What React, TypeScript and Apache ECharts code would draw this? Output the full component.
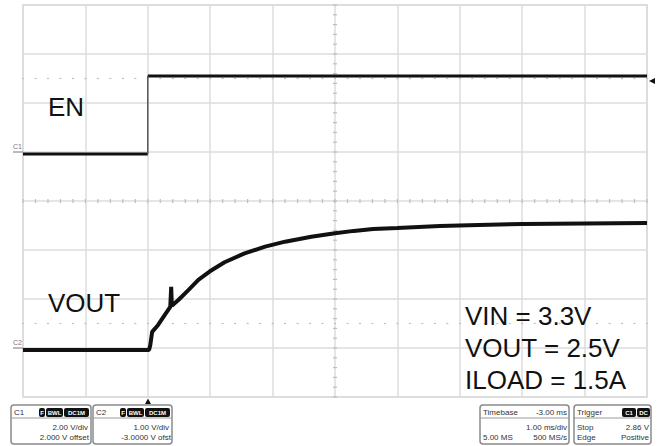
import React, { useEffect, useRef } from "react";
import * as echarts from "echarts";

// Time in ms relative to trigger, voltages in volts
const EN_TIME = [-2, 0, 0, 0, 8];
const EN_VOLT: (number | string)[] = [0, 0, "-", 3.18, 3.18];
const EN_EDGE_TIME = [0, 0];
const EN_EDGE_VOLT = [0, 3.18];

const VOUT_TIME = [-2, 0.02, 0.04, 0.07, 0.165, 0.27, 0.36, 0.375, 0.385, 0.49, 0.65, 0.81, 0.99, 1.23, 1.55, 1.88, 2.2, 2.62, 3.0, 3.3, 3.61, 4.0, 4.68, 5.3, 6.01, 7.0, 8.0];
const VOUT_VOLT = [0, 0, 0.1, 0.37, 0.51, 0.71, 0.88, 1.29, 0.9, 1.02, 1.22, 1.43, 1.6, 1.79, 1.97, 2.11, 2.21, 2.31, 2.38, 2.43, 2.47, 2.49, 2.53, 2.55, 2.57, 2.58, 2.59];

// channel settings (V/div, ground position in divisions)
const EN_SCALE = 2;
const EN_GND = 0.96;
const VOUT_SCALE = 1;
const VOUT_GND = -3.04;

const X_MIN = -2;
const X_MAX = 8;
const X_CENTER = 3;
const Y_MIN = -4;
const Y_MAX = 4;

const ANNOTATIONS = ["VIN = 3.3V", "VOUT = 2.5V", "ILOAD = 1.5A"];

const FONT = "'Liberation Sans', Arial, sans-serif";

function buildTicks() {
  const out: number[][] = [];
  for (let k = 0; k <= 50; k++) {
    const x = X_MIN + k * 0.2;
    out.push([x, 0, 0]);
    out.push([x, 2.5, 2]);
    out.push([x, -2.5, 2]);
  }
  for (let k = 0; k <= 40; k++) {
    const y = Y_MIN + k * 0.2;
    out.push([X_CENTER, y, 1]);
  }
  return out;
}

function txt(x: number, y: number, text: string, opts: any = {}) {
  return {
    type: "text",
    x,
    y,
    style: {
      text,
      fill: opts.fill || "#333",
      font: opts.font || `8px ${FONT}`,
      textAlign: opts.align || "left",
      textVerticalAlign: "middle",
    },
    z: 10,
  };
}

function badge(x: number, w: number, y: number, label: string) {
  return [
    { type: "rect", shape: { x, y, width: w, height: 9, r: 2 }, style: { fill: "#111" }, z: 10 },
    txt(x + w / 2, y + 4.5, label, { fill: "#fff", font: `bold 6px ${FONT}`, align: "center" }),
  ];
}

function box(x: number, w: number) {
  return [
    { type: "rect", shape: { x, y: 405, width: w, height: 39, r: 3 }, style: { fill: "#fff", stroke: "#8a8a8a", lineWidth: 1.5 }, z: 9 },
    { type: "line", shape: { x1: x, y1: 418, x2: x + w, y2: 418 }, style: { stroke: "#9a9a9a", lineWidth: 1 }, z: 9 },
  ];
}

export default function App() {
  const ref = useRef<HTMLDivElement>(null);
  useEffect(() => {
    if (!ref.current) return;
    const chart = echarts.init(ref.current, null, { renderer: "svg" });
    const enData = EN_TIME.map((t, i) => [t, typeof EN_VOLT[i] === "number" ? EN_GND + (EN_VOLT[i] as number) / EN_SCALE : "-"]);
    const enEdge = EN_EDGE_TIME.map((t, i) => [t, EN_GND + EN_EDGE_VOLT[i] / EN_SCALE]);
    const voutData = VOUT_TIME.map((t, i) => [t, VOUT_GND + VOUT_VOLT[i] / VOUT_SCALE]);

    const graphics: any[] = [
      txt(48, 107, "EN", { font: `26px ${FONT}`, fill: "#111" }),
      txt(48, 303, "VOUT", { font: `26px ${FONT}`, fill: "#111" }),
      ...ANNOTATIONS.map((a, i) => txt(465, 316 + i * 32, a, { font: `26px ${FONT}`, fill: "#111" })),
      // ground markers
      txt(13, 146, "C1", { font: `7px ${FONT}`, fill: "#777" }),
      { type: "line", shape: { x1: 13, y1: 152, x2: 23, y2: 152 }, style: { stroke: "#777", lineWidth: 1 }, z: 10 },
      txt(13, 342, "C2", { font: `7px ${FONT}`, fill: "#777" }),
      { type: "line", shape: { x1: 13, y1: 348, x2: 23, y2: 348 }, style: { stroke: "#777", lineWidth: 1 }, z: 10 },
      // trigger markers
      { type: "polygon", shape: { points: [[649, 81], [655, 78], [655, 84]] }, style: { fill: "#111" }, z: 10 },
      { type: "polygon", shape: { points: [[148, 398.5], [145, 404], [151, 404]] }, style: { fill: "#111" }, z: 10 },
      // C1 box
      ...box(11, 80),
      txt(14, 412, "C1"),
      ...badge(39, 6, 408, "F"),
      ...badge(46, 17, 408, "BWL"),
      ...badge(64, 25, 408, "DC1M"),
      txt(88, 427, "2.00 V/div", { align: "right" }),
      txt(89, 437, "2.000 V offset", { align: "right" }),
      // C2 box
      ...box(93, 79),
      txt(96, 412, "C2"),
      ...badge(120, 6, 408, "F"),
      ...badge(127, 17, 408, "BWL"),
      ...badge(145, 25, 408, "DC1M"),
      txt(169, 427, "1.00 V/div", { align: "right" }),
      txt(171, 437, "-3.0000 V ofst", { align: "right" }),
      // Timebase box
      ...box(480, 89),
      txt(483, 412, "Timebase"),
      txt(567, 412, "-3.00 ms", { align: "right" }),
      txt(567, 427, "1.00 ms/div", { align: "right" }),
      txt(483, 437, "5.00 MS"),
      txt(567, 437, "500 MS/s", { align: "right" }),
      // Trigger box
      ...box(574, 77),
      txt(577, 412, "Trigger"),
      ...badge(622, 14, 408, "C1"),
      ...badge(637, 13, 408, "DC"),
      txt(577, 427, "Stop"),
      txt(649, 427, "2.86 V", { align: "right" }),
      txt(577, 437, "Edge"),
      txt(649, 437, "Positive", { align: "right" }),
    ];

    chart.setOption({
      animation: false,
      backgroundColor: "#fff",
      grid: { left: 23, top: 5, width: 624, height: 392, show: true, borderColor: "#d2d2d2", borderWidth: 1.5, backgroundColor: "transparent" },
      xAxis: {
        type: "value",
        min: X_MIN,
        max: X_MAX,
        interval: 1,
        axisLine: { show: false },
        axisTick: { show: false },
        axisLabel: { show: false },
        splitLine: { show: true, lineStyle: { color: "#dcdcdc", width: 1.5 } },
      },
      yAxis: {
        type: "value",
        min: Y_MIN,
        max: Y_MAX,
        interval: 1,
        axisLine: { show: false },
        axisTick: { show: false },
        axisLabel: { show: false },
        splitLine: { show: true, lineStyle: { color: "#dcdcdc", width: 1.5 } },
      },
      series: [
        {
          type: "custom",
          silent: true,
          coordinateSystem: "cartesian2d",
          data: buildTicks(),
          z: 1,
          renderItem: (params: any, api: any) => {
            const p = api.coord([api.value(0), api.value(1)]);
            const k = api.value(2);
            let shape;
            if (k === 0) shape = { x1: p[0], y1: p[1] - 2, x2: p[0], y2: p[1] + 2 };
            else if (k === 1) shape = { x1: p[0] - 2, y1: p[1], x2: p[0] + 2, y2: p[1] };
            else shape = { x1: p[0] - 1, y1: p[1], x2: p[0] + 1, y2: p[1] };
            return { type: "line", shape, style: { stroke: "#bdbdbd", lineWidth: 1.2 } };
          },
        },
        {
          type: "line",
          data: enData,
          symbol: "none",
          connectNulls: false,
          lineStyle: { color: "#111", width: 3 },
          z: 5,
        },
        {
          type: "line",
          data: enEdge,
          symbol: "none",
          lineStyle: { color: "#555", width: 1.5 },
          z: 5,
        },
        {
          type: "line",
          data: voutData,
          symbol: "none",
          lineStyle: { color: "#111", width: 4 },
          z: 5,
        },
      ],
      graphic: graphics,
    });
    return () => chart.dispose();
  }, []);
  return <div ref={ref} style={{ position: "fixed", left: 0, top: 0, width: 661, height: 446, background: "#fff" }} />;
}
